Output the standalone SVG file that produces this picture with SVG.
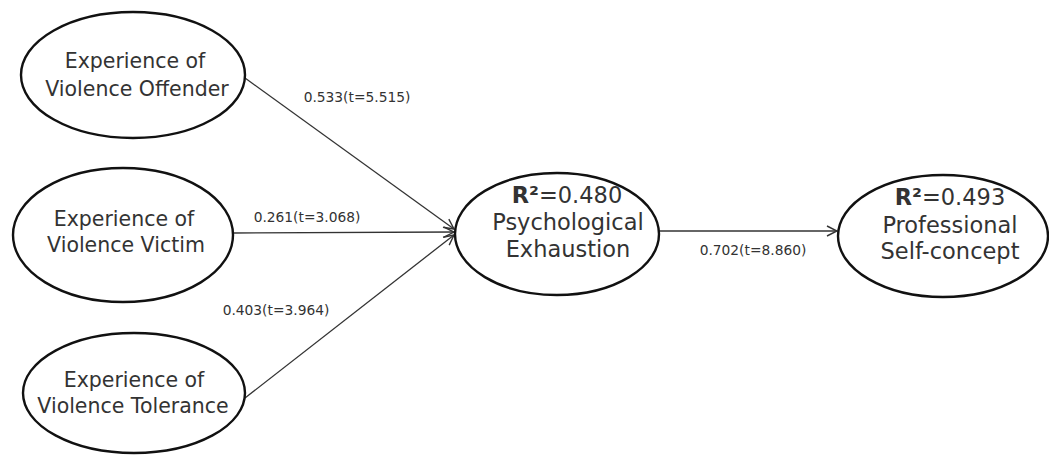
<svg xmlns="http://www.w3.org/2000/svg" width="1049" height="464" viewBox="0 0 1049 464">
<defs>
<style>
.node{fill:#fff;stroke:#111;stroke-width:2.4}
.nt{font-family:"DejaVu Sans","Open Sans",sans-serif;fill:#333;text-anchor:middle}
.small{font-size:20.5px}
.big{font-size:22.5px}
.el{font-family:"DejaVu Sans","Open Sans",sans-serif;font-size:13.8px;fill:#333;text-anchor:middle}
.conn{stroke:#333;stroke-width:1.3;fill:none;marker-end:url(#arr)}
</style>
<marker id="arr" viewBox="0 0 12 12" refX="11" refY="6" markerWidth="12" markerHeight="12" markerUnits="userSpaceOnUse" orient="auto">
<path d="M1,1 L11,6 L1,11" fill="none" stroke="#333" stroke-width="1.4"/>
</marker>
</defs>
<rect width="1049" height="464" fill="#fff"/>
<g id="connectors">
<line class="conn" x1="245" y1="78" x2="454" y2="229"/>
<line class="conn" x1="233" y1="233" x2="454" y2="232"/>
<line class="conn" x1="245" y1="398" x2="454" y2="235"/>
<line class="conn" x1="659" y1="231" x2="837" y2="231"/>
<text class="el" x="357" y="102">0.533(t=5.515)</text>
<text class="el" x="307" y="222">0.261(t=3.068)</text>
<text class="el" x="276" y="315">0.403(t=3.964)</text>
<text class="el" x="753" y="255">0.702(t=8.860)</text>
</g>
<g id="offender">
<ellipse class="node" cx="133" cy="75" rx="112" ry="63"/>
<text class="nt small" x="135" y="68">Experience of</text>
<text class="nt small" x="137" y="96">Violence Offender</text>
</g>
<g id="victim">
<ellipse class="node" cx="123" cy="235" rx="110" ry="67"/>
<text class="nt small" x="124" y="226">Experience of</text>
<text class="nt small" x="126" y="252">Violence Victim</text>
</g>
<g id="tolerance">
<ellipse class="node" cx="134" cy="393" rx="111" ry="60"/>
<text class="nt small" x="134" y="387">Experience of</text>
<text class="nt small" x="133" y="413">Violence Tolerance</text>
</g>
<g id="exhaustion">
<ellipse class="node" cx="557" cy="234" rx="102" ry="61"/>
<text class="nt big" x="567" y="203"><tspan font-weight="bold">R²</tspan>=0.480</text>
<text class="nt big" x="568" y="230">Psychological</text>
<text class="nt big" x="568" y="257">Exhaustion</text>
</g>
<g id="selfconcept">
<ellipse class="node" cx="943" cy="236" rx="105" ry="61"/>
<text class="nt big" x="950" y="205"><tspan font-weight="bold">R²</tspan>=0.493</text>
<text class="nt big" x="950" y="233">Professional</text>
<text class="nt big" x="950" y="259">Self-concept</text>
</g>
</svg>
